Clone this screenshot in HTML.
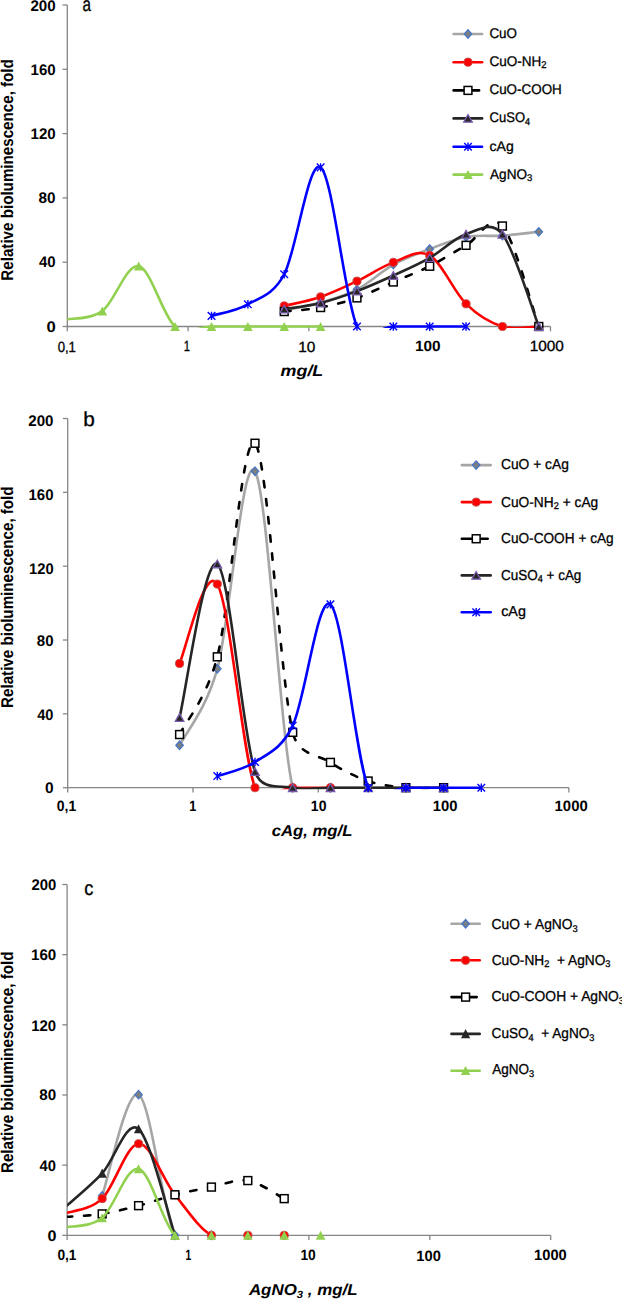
<!DOCTYPE html>
<html><head><meta charset="utf-8"><style>
html,body{margin:0;padding:0;background:#fff;width:622px;height:1300px;overflow:hidden}
svg{display:block}
text{font-family:"Liberation Sans",sans-serif;fill:#000;text-rendering:geometricPrecision}
</style></head><body>
<svg width="622" height="1300" viewBox="0 0 622 1300">
<defs><clipPath id="ca"><rect x="67.30" y="5.00" width="483.20" height="323.00"/></clipPath><clipPath id="cb"><rect x="67.70" y="418.50" width="501.20" height="370.70"/></clipPath><clipPath id="cc"><rect x="67.10" y="884.50" width="483.60" height="349.40"/></clipPath></defs>
<g stroke="#868686" stroke-width="1.3" fill="none"><path d="M67.30 5.00V326.50H550.40"/><path d="M62.50 326.50H67.30"/><path d="M62.50 262.20H67.30"/><path d="M62.50 197.90H67.30"/><path d="M62.50 133.60H67.30"/><path d="M62.50 69.30H67.30"/><path d="M62.50 5.00H67.30"/><path d="M67.30 326.50V331.30"/><path d="M188.10 326.50V331.30"/><path d="M308.90 326.50V331.30"/><path d="M429.70 326.50V331.30"/><path d="M550.50 326.50V331.30"/></g>
<path d="M284.24 310.43 C290.30 309.09 308.49 305.87 320.61 302.39 C332.73 298.90 344.85 295.82 356.97 289.53 C369.09 283.23 381.21 271.36 393.34 264.61 C405.46 257.86 417.58 253.63 429.70 249.02 C441.82 244.41 453.94 239.19 466.06 236.96 C478.19 234.74 490.31 236.53 502.43 235.68 C514.55 234.82 532.73 232.46 538.79 231.82" fill="none" stroke="#a6a6a6" stroke-width="2.6" stroke-linejoin="round" clip-path="url(#ca)"/><polygon points="284.24,306.23 287.94,310.43 284.24,314.62 280.54,310.43" fill="#7f7f7f" stroke="#4575c4" stroke-width="1.3"/><polygon points="320.61,298.19 324.31,302.39 320.61,306.59 316.91,302.39" fill="#7f7f7f" stroke="#4575c4" stroke-width="1.3"/><polygon points="356.97,285.33 360.67,289.53 356.97,293.73 353.27,289.53" fill="#7f7f7f" stroke="#4575c4" stroke-width="1.3"/><polygon points="393.34,260.41 397.04,264.61 393.34,268.81 389.64,264.61" fill="#7f7f7f" stroke="#4575c4" stroke-width="1.3"/><polygon points="429.70,244.82 433.40,249.02 429.70,253.22 426.00,249.02" fill="#7f7f7f" stroke="#4575c4" stroke-width="1.3"/><polygon points="466.06,232.76 469.76,236.96 466.06,241.16 462.36,236.96" fill="#7f7f7f" stroke="#4575c4" stroke-width="1.3"/><polygon points="502.43,231.48 506.13,235.68 502.43,239.88 498.73,235.68" fill="#7f7f7f" stroke="#4575c4" stroke-width="1.3"/><polygon points="538.79,227.62 542.49,231.82 538.79,236.02 535.09,231.82" fill="#7f7f7f" stroke="#4575c4" stroke-width="1.3"/>
<path d="M284.24 305.92 C290.30 304.42 308.49 301.05 320.61 296.92 C332.73 292.80 344.85 286.93 356.97 281.17 C369.09 275.41 381.21 266.65 393.34 262.36 C405.46 258.07 417.58 248.54 429.70 255.45 C441.82 262.36 453.94 291.99 466.06 303.83 C478.19 315.68 490.31 322.72 502.43 326.50 C514.55 330.28 532.73 326.50 538.79 326.50" fill="none" stroke="#ff0000" stroke-width="2.6" stroke-linejoin="round" clip-path="url(#ca)"/><circle cx="284.24" cy="305.92" r="4.1" fill="#ff0000" stroke="#c0504d" stroke-width="0.9"/><circle cx="320.61" cy="296.92" r="4.1" fill="#ff0000" stroke="#c0504d" stroke-width="0.9"/><circle cx="356.97" cy="281.17" r="4.1" fill="#ff0000" stroke="#c0504d" stroke-width="0.9"/><circle cx="393.34" cy="262.36" r="4.1" fill="#ff0000" stroke="#c0504d" stroke-width="0.9"/><circle cx="429.70" cy="255.45" r="4.1" fill="#ff0000" stroke="#c0504d" stroke-width="0.9"/><circle cx="466.06" cy="303.83" r="4.1" fill="#ff0000" stroke="#c0504d" stroke-width="0.9"/><circle cx="502.43" cy="326.50" r="4.1" fill="#ff0000" stroke="#c0504d" stroke-width="0.9"/><circle cx="538.79" cy="326.50" r="4.1" fill="#ff0000" stroke="#c0504d" stroke-width="0.9"/>
<path d="M284.24 311.55 C290.30 310.88 308.49 309.81 320.61 307.53 C332.73 305.25 344.85 302.15 356.97 297.89 C369.09 293.63 381.21 287.25 393.34 281.97 C405.46 276.69 417.58 272.33 429.70 266.22 C441.82 260.11 453.94 252.02 466.06 245.32 C478.19 238.62 490.31 212.50 502.43 226.03 C514.55 239.56 532.73 309.76 538.79 326.50" fill="none" stroke="#000000" stroke-width="2.6" stroke-linejoin="round" stroke-dasharray="6.4 11.8" stroke-linecap="round" clip-path="url(#ca)"/><rect x="280.34" y="307.60" width="7.8" height="7.9" fill="#fff" stroke="#000" stroke-width="1.5"/><rect x="316.71" y="303.58" width="7.8" height="7.9" fill="#fff" stroke="#000" stroke-width="1.5"/><rect x="353.07" y="293.94" width="7.8" height="7.9" fill="#fff" stroke="#000" stroke-width="1.5"/><rect x="389.44" y="278.02" width="7.8" height="7.9" fill="#fff" stroke="#000" stroke-width="1.5"/><rect x="425.80" y="262.27" width="7.8" height="7.9" fill="#fff" stroke="#000" stroke-width="1.5"/><rect x="462.16" y="241.37" width="7.8" height="7.9" fill="#fff" stroke="#000" stroke-width="1.5"/><rect x="498.53" y="222.08" width="7.8" height="7.9" fill="#fff" stroke="#000" stroke-width="1.5"/><rect x="534.89" y="322.55" width="7.8" height="7.9" fill="#fff" stroke="#000" stroke-width="1.5"/>
<path d="M284.24 309.14 C290.30 308.12 308.49 306.03 320.61 303.03 C332.73 300.03 344.85 295.72 356.97 291.13 C369.09 286.55 381.21 281.09 393.34 275.54 C405.46 270.00 417.58 264.75 429.70 257.86 C441.82 250.97 453.94 238.17 466.06 234.23 C478.19 230.29 491.17 219.95 502.43 234.23 C514.55 249.61 532.73 311.12 538.79 326.50" fill="none" stroke="#262626" stroke-width="2.6" stroke-linejoin="round" clip-path="url(#ca)"/><polygon points="284.24,305.24 288.54,312.94 279.94,312.94" fill="#262626" stroke="#7b5cae" stroke-width="1.3"/><polygon points="320.61,299.13 324.91,306.83 316.31,306.83" fill="#262626" stroke="#7b5cae" stroke-width="1.3"/><polygon points="356.97,287.24 361.27,294.94 352.67,294.94" fill="#262626" stroke="#7b5cae" stroke-width="1.3"/><polygon points="393.34,271.64 397.64,279.34 389.04,279.34" fill="#262626" stroke="#7b5cae" stroke-width="1.3"/><polygon points="429.70,253.96 434.00,261.66 425.40,261.66" fill="#262626" stroke="#7b5cae" stroke-width="1.3"/><polygon points="466.06,230.33 470.36,238.03 461.76,238.03" fill="#262626" stroke="#7b5cae" stroke-width="1.3"/><polygon points="502.43,230.33 506.73,238.03 498.13,238.03" fill="#262626" stroke="#7b5cae" stroke-width="1.3"/><polygon points="538.79,322.60 543.09,330.30 534.49,330.30" fill="#262626" stroke="#7b5cae" stroke-width="1.3"/>
<path d="M211.51 315.89 C217.57 313.96 235.76 311.26 247.88 304.32 C260.00 297.38 273.18 295.09 284.24 274.26 C296.36 251.43 308.49 158.65 320.61 167.36 C332.73 176.06 344.85 299.98 356.97 326.50 C364.53 343.04 381.21 326.50 393.34 326.50 C405.46 326.50 417.58 326.50 429.70 326.50 C441.82 326.50 460.00 326.50 466.06 326.50" fill="none" stroke="#0000ff" stroke-width="2.6" stroke-linejoin="round" clip-path="url(#ca)"/><path d="M207.71 312.09L215.31 319.69M215.31 312.09L207.71 319.69M211.51 311.69L211.51 320.09" stroke="#0000ff" stroke-width="1.4" fill="none"/><path d="M244.08 300.52L251.68 308.12M251.68 300.52L244.08 308.12M247.88 300.12L247.88 308.52" stroke="#0000ff" stroke-width="1.4" fill="none"/><path d="M280.44 270.46L288.04 278.06M288.04 270.46L280.44 278.06M284.24 270.06L284.24 278.46" stroke="#0000ff" stroke-width="1.4" fill="none"/><path d="M316.81 163.56L324.41 171.16M324.41 163.56L316.81 171.16M320.61 163.16L320.61 171.56" stroke="#0000ff" stroke-width="1.4" fill="none"/><path d="M353.17 322.70L360.77 330.30M360.77 322.70L353.17 330.30M356.97 322.30L356.97 330.70" stroke="#0000ff" stroke-width="1.4" fill="none"/><path d="M389.54 322.70L397.14 330.30M397.14 322.70L389.54 330.30M393.34 322.30L393.34 330.70" stroke="#0000ff" stroke-width="1.4" fill="none"/><path d="M425.90 322.70L433.50 330.30M433.50 322.70L425.90 330.30M429.70 322.30L429.70 330.70" stroke="#0000ff" stroke-width="1.4" fill="none"/><path d="M462.26 322.70L469.86 330.30M469.86 322.70L462.26 330.30M466.06 322.30L466.06 330.70" stroke="#0000ff" stroke-width="1.4" fill="none"/>
<path d="M66.08 319.43 C72.12 318.03 90.23 319.96 102.34 311.07 C114.44 302.17 126.58 263.49 138.70 266.06 C150.82 268.63 162.93 316.43 175.07 326.50 C187.20 336.57 199.38 326.50 211.51 326.50 C223.65 326.50 235.76 326.50 247.88 326.50 C260.00 326.50 272.12 326.50 284.24 326.50 C296.36 326.50 314.55 326.50 320.61 326.50" fill="none" stroke="#92d050" stroke-width="2.6" stroke-linejoin="round" clip-path="url(#ca)"/><polygon points="102.34,306.47 107.14,315.47 97.54,315.47" fill="#92d050"/><polygon points="138.70,261.46 143.50,270.46 133.90,270.46" fill="#92d050"/><polygon points="175.07,321.90 179.87,330.90 170.27,330.90" fill="#92d050"/><polygon points="211.51,321.90 216.31,330.90 206.71,330.90" fill="#92d050"/><polygon points="247.88,321.90 252.68,330.90 243.08,330.90" fill="#92d050"/><polygon points="284.24,321.90 289.04,330.90 279.44,330.90" fill="#92d050"/><polygon points="320.61,321.90 325.41,330.90 315.81,330.90" fill="#92d050"/>
<path d="M453.60 34.00H482.10" stroke="#a6a6a6" stroke-width="2.6" stroke-linecap="round"/><polygon points="468.00,29.80 471.70,34.00 468.00,38.20 464.30,34.00" fill="#7f7f7f" stroke="#4575c4" stroke-width="1.3"/>
<path d="M453.60 62.20H482.10" stroke="#ff0000" stroke-width="2.6" stroke-linecap="round"/><circle cx="468.00" cy="62.20" r="4.1" fill="#ff0000" stroke="#c0504d" stroke-width="0.9"/>
<path d="M453.60 90.40H464.00M472.00 90.40H479.10" stroke="#000" stroke-width="2.6" stroke-linecap="round"/><rect x="464.10" y="86.45" width="7.8" height="7.9" fill="#fff" stroke="#000" stroke-width="1.5"/>
<path d="M453.60 118.40H482.10" stroke="#262626" stroke-width="2.6" stroke-linecap="round"/><polygon points="468.00,114.50 472.30,122.20 463.70,122.20" fill="#262626" stroke="#7b5cae" stroke-width="1.3"/>
<path d="M453.60 146.70H482.10" stroke="#0000ff" stroke-width="2.6" stroke-linecap="round"/><path d="M464.20 142.90L471.80 150.50M471.80 142.90L464.20 150.50M468.00 142.50L468.00 150.90" stroke="#0000ff" stroke-width="1.4" fill="none"/>
<path d="M453.60 174.60H482.10" stroke="#92d050" stroke-width="2.6" stroke-linecap="round"/><polygon points="468.00,170.00 472.80,179.00 463.20,179.00" fill="#92d050"/>
<text transform="translate(12.90,169.90) rotate(-90)" font-size="17.00" font-weight="bold" text-anchor="middle" textLength="221.50" lengthAdjust="spacingAndGlyphs">Relative bioluminescence, fold</text>
<g stroke="#868686" stroke-width="1.3" fill="none"><path d="M67.70 418.50V787.70H569.00"/><path d="M62.90 787.70H67.70"/><path d="M62.90 713.86H67.70"/><path d="M62.90 640.02H67.70"/><path d="M62.90 566.18H67.70"/><path d="M62.90 492.34H67.70"/><path d="M62.90 418.50H67.70"/><path d="M67.70 787.70V792.50"/><path d="M193.00 787.70V792.50"/><path d="M318.30 787.70V792.50"/><path d="M443.60 787.70V792.50"/><path d="M568.90 787.70V792.50"/></g>
<path d="M179.57 745.24 C185.85 732.50 205.97 709.90 217.29 668.82 C229.86 623.16 242.43 451.48 255.00 471.30 C267.58 491.11 280.15 734.97 292.72 787.70 C297.10 806.05 317.87 787.70 330.44 787.70 C343.02 787.70 355.59 787.70 368.16 787.70 C380.73 787.70 393.31 787.70 405.88 787.70 C418.45 787.70 437.31 787.70 443.60 787.70" fill="none" stroke="#a6a6a6" stroke-width="2.6" stroke-linejoin="round" clip-path="url(#cb)"/><polygon points="179.57,741.04 183.27,745.24 179.57,749.44 175.87,745.24" fill="#7f7f7f" stroke="#4575c4" stroke-width="1.3"/><polygon points="217.29,664.62 220.99,668.82 217.29,673.02 213.59,668.82" fill="#7f7f7f" stroke="#4575c4" stroke-width="1.3"/><polygon points="255.00,467.10 258.70,471.30 255.00,475.50 251.30,471.30" fill="#7f7f7f" stroke="#4575c4" stroke-width="1.3"/><polygon points="292.72,783.50 296.42,787.70 292.72,791.90 289.02,787.70" fill="#7f7f7f" stroke="#4575c4" stroke-width="1.3"/><polygon points="330.44,783.50 334.14,787.70 330.44,791.90 326.74,787.70" fill="#7f7f7f" stroke="#4575c4" stroke-width="1.3"/><polygon points="368.16,783.50 371.86,787.70 368.16,791.90 364.46,787.70" fill="#7f7f7f" stroke="#4575c4" stroke-width="1.3"/><polygon points="405.88,783.50 409.58,787.70 405.88,791.90 402.18,787.70" fill="#7f7f7f" stroke="#4575c4" stroke-width="1.3"/><polygon points="443.60,783.50 447.30,787.70 443.60,791.90 439.90,787.70" fill="#7f7f7f" stroke="#4575c4" stroke-width="1.3"/>
<path d="M179.57 734.54 C185.85 721.58 206.46 698.63 217.29 656.82 C229.86 608.27 242.43 430.65 255.00 443.24 C267.58 455.82 280.15 679.12 292.72 732.32 C298.27 755.80 317.87 754.29 330.44 762.41 C343.02 770.53 355.59 776.84 368.16 781.05 C380.73 785.27 393.31 786.59 405.88 787.70 C418.45 788.81 437.31 787.70 443.60 787.70" fill="none" stroke="#000000" stroke-width="2.6" stroke-linejoin="round" stroke-dasharray="6.4 11.8" stroke-linecap="round" clip-path="url(#cb)"/><rect x="175.67" y="730.59" width="7.8" height="7.9" fill="#fff" stroke="#000" stroke-width="1.5"/><rect x="213.39" y="652.87" width="7.8" height="7.9" fill="#fff" stroke="#000" stroke-width="1.5"/><rect x="251.10" y="439.29" width="7.8" height="7.9" fill="#fff" stroke="#000" stroke-width="1.5"/><rect x="288.82" y="728.37" width="7.8" height="7.9" fill="#fff" stroke="#000" stroke-width="1.5"/><rect x="326.54" y="758.46" width="7.8" height="7.9" fill="#fff" stroke="#000" stroke-width="1.5"/><rect x="364.26" y="777.10" width="7.8" height="7.9" fill="#fff" stroke="#000" stroke-width="1.5"/><rect x="401.98" y="783.75" width="7.8" height="7.9" fill="#fff" stroke="#000" stroke-width="1.5"/><rect x="439.70" y="783.75" width="7.8" height="7.9" fill="#fff" stroke="#000" stroke-width="1.5"/>
<path d="M179.57 663.46 C185.85 650.23 204.71 563.38 217.29 584.09 C229.86 604.79 242.43 753.76 255.00 787.70 C261.56 805.38 280.15 787.70 292.72 787.70 C305.30 787.70 324.16 787.70 330.44 787.70" fill="none" stroke="#ff0000" stroke-width="2.6" stroke-linejoin="round" clip-path="url(#cb)"/><circle cx="179.57" cy="663.46" r="4.1" fill="#ff0000" stroke="#c0504d" stroke-width="0.9"/><circle cx="217.29" cy="584.09" r="4.1" fill="#ff0000" stroke="#c0504d" stroke-width="0.9"/><circle cx="255.00" cy="787.70" r="4.1" fill="#ff0000" stroke="#c0504d" stroke-width="0.9"/><circle cx="292.72" cy="787.70" r="4.1" fill="#ff0000" stroke="#c0504d" stroke-width="0.9"/><circle cx="330.44" cy="787.70" r="4.1" fill="#ff0000" stroke="#c0504d" stroke-width="0.9"/>
<path d="M179.57 717.55 C185.85 691.95 204.71 554.95 217.29 563.96 C229.86 572.98 242.43 734.35 255.00 771.64 C261.55 791.06 280.15 785.02 292.72 787.70 C305.30 790.38 317.87 787.70 330.44 787.70 C343.02 787.70 355.59 787.70 368.16 787.70 C380.73 787.70 393.31 787.70 405.88 787.70 C418.45 787.70 437.31 787.70 443.60 787.70" fill="none" stroke="#262626" stroke-width="2.6" stroke-linejoin="round" clip-path="url(#cb)"/><polygon points="179.57,713.65 183.87,721.35 175.27,721.35" fill="#262626" stroke="#7b5cae" stroke-width="1.3"/><polygon points="217.29,560.06 221.59,567.76 212.99,567.76" fill="#262626" stroke="#7b5cae" stroke-width="1.3"/><polygon points="255.00,767.74 259.30,775.44 250.70,775.44" fill="#262626" stroke="#7b5cae" stroke-width="1.3"/><polygon points="292.72,783.80 297.02,791.50 288.42,791.50" fill="#262626" stroke="#7b5cae" stroke-width="1.3"/><polygon points="330.44,783.80 334.74,791.50 326.14,791.50" fill="#262626" stroke="#7b5cae" stroke-width="1.3"/><polygon points="368.16,783.80 372.46,791.50 363.86,791.50" fill="#262626" stroke="#7b5cae" stroke-width="1.3"/><polygon points="405.88,783.80 410.18,791.50 401.58,791.50" fill="#262626" stroke="#7b5cae" stroke-width="1.3"/><polygon points="443.60,783.80 447.90,791.50 439.30,791.50" fill="#262626" stroke="#7b5cae" stroke-width="1.3"/>
<path d="M217.29 776.07 C223.57 773.73 242.43 770.44 255.00 762.04 C267.58 753.64 281.42 749.31 292.72 725.67 C305.30 699.40 317.87 594.05 330.44 604.39 C343.02 614.73 355.59 757.15 368.16 787.70 C375.34 805.14 393.31 787.70 405.88 787.70 C418.45 787.70 431.03 787.70 443.60 787.70 C456.17 787.70 475.03 787.70 481.32 787.70" fill="none" stroke="#0000ff" stroke-width="2.6" stroke-linejoin="round" clip-path="url(#cb)"/><path d="M213.49 772.27L221.09 779.87M221.09 772.27L213.49 779.87M217.29 771.87L217.29 780.27" stroke="#0000ff" stroke-width="1.4" fill="none"/><path d="M251.20 758.24L258.80 765.84M258.80 758.24L251.20 765.84M255.00 757.84L255.00 766.24" stroke="#0000ff" stroke-width="1.4" fill="none"/><path d="M288.92 721.87L296.52 729.47M296.52 721.87L288.92 729.47M292.72 721.47L292.72 729.87" stroke="#0000ff" stroke-width="1.4" fill="none"/><path d="M326.64 600.59L334.24 608.19M334.24 600.59L326.64 608.19M330.44 600.19L330.44 608.59" stroke="#0000ff" stroke-width="1.4" fill="none"/><path d="M364.36 783.90L371.96 791.50M371.96 783.90L364.36 791.50M368.16 783.50L368.16 791.90" stroke="#0000ff" stroke-width="1.4" fill="none"/><path d="M402.08 783.90L409.68 791.50M409.68 783.90L402.08 791.50M405.88 783.50L405.88 791.90" stroke="#0000ff" stroke-width="1.4" fill="none"/><path d="M439.80 783.90L447.40 791.50M447.40 783.90L439.80 791.50M443.60 783.50L443.60 791.90" stroke="#0000ff" stroke-width="1.4" fill="none"/><path d="M477.52 783.90L485.12 791.50M485.12 783.90L477.52 791.50M481.32 783.50L481.32 791.90" stroke="#0000ff" stroke-width="1.4" fill="none"/>
<path d="M461.80 465.10H490.70" stroke="#a6a6a6" stroke-width="2.6" stroke-linecap="round"/><polygon points="476.20,460.90 479.90,465.10 476.20,469.30 472.50,465.10" fill="#7f7f7f" stroke="#4575c4" stroke-width="1.3"/>
<path d="M461.80 502.10H490.70" stroke="#ff0000" stroke-width="2.6" stroke-linecap="round"/><circle cx="476.20" cy="502.10" r="4.1" fill="#ff0000" stroke="#c0504d" stroke-width="0.9"/>
<path d="M461.80 538.75H472.20M480.20 538.75H487.70" stroke="#000" stroke-width="2.6" stroke-linecap="round"/><rect x="472.30" y="534.80" width="7.8" height="7.9" fill="#fff" stroke="#000" stroke-width="1.5"/>
<path d="M461.80 575.40H490.70" stroke="#262626" stroke-width="2.6" stroke-linecap="round"/><polygon points="476.20,571.50 480.50,579.20 471.90,579.20" fill="#262626" stroke="#7b5cae" stroke-width="1.3"/>
<path d="M461.80 612.30H490.70" stroke="#0000ff" stroke-width="2.6" stroke-linecap="round"/><path d="M472.40 608.50L480.00 616.10M480.00 608.50L472.40 616.10M476.20 608.10L476.20 616.50" stroke="#0000ff" stroke-width="1.4" fill="none"/>
<text transform="translate(12.90,597.15) rotate(-90)" font-size="17.00" font-weight="bold" text-anchor="middle" textLength="221.50" lengthAdjust="spacingAndGlyphs">Relative bioluminescence, fold</text>
<g stroke="#868686" stroke-width="1.3" fill="none"><path d="M67.10 884.50V1235.30H550.70"/><path d="M62.30 1235.30H67.10"/><path d="M62.30 1165.14H67.10"/><path d="M62.30 1094.98H67.10"/><path d="M62.30 1024.82H67.10"/><path d="M62.30 954.66H67.10"/><path d="M62.30 884.50H67.10"/><path d="M67.10 1235.30V1240.10"/><path d="M188.00 1235.30V1240.10"/><path d="M308.90 1235.30V1240.10"/><path d="M429.80 1235.30V1240.10"/><path d="M550.70 1235.30V1240.10"/></g>
<path d="M102.17 1195.84 C108.23 1178.97 126.43 1088.05 138.56 1094.63 C150.69 1101.21 162.81 1211.85 174.95 1235.30 C183.34 1251.50 205.35 1235.30 211.43 1235.30" fill="none" stroke="#a6a6a6" stroke-width="2.6" stroke-linejoin="round" clip-path="url(#cc)"/><polygon points="102.17,1191.63 105.87,1195.84 102.17,1200.04 98.47,1195.84" fill="#7f7f7f" stroke="#4575c4" stroke-width="1.3"/><polygon points="138.56,1090.43 142.26,1094.63 138.56,1098.83 134.86,1094.63" fill="#7f7f7f" stroke="#4575c4" stroke-width="1.3"/><polygon points="174.95,1231.10 178.65,1235.30 174.95,1239.50 171.25,1235.30" fill="#7f7f7f" stroke="#4575c4" stroke-width="1.3"/><polygon points="211.43,1231.10 215.13,1235.30 211.43,1239.50 207.73,1235.30" fill="#7f7f7f" stroke="#4575c4" stroke-width="1.3"/>
<path d="M65.88 1213.20 C71.93 1210.77 90.05 1210.22 102.17 1198.64 C114.28 1187.07 126.43 1144.38 138.56 1143.74 C150.69 1143.10 162.81 1179.52 174.95 1194.78 C187.10 1210.04 199.29 1228.55 211.43 1235.30 C223.58 1242.05 235.70 1235.30 247.83 1235.30 C259.96 1235.30 278.16 1235.30 284.22 1235.30" fill="none" stroke="#ff0000" stroke-width="2.6" stroke-linejoin="round" clip-path="url(#cc)"/><circle cx="102.17" cy="1198.64" r="4.1" fill="#ff0000" stroke="#c0504d" stroke-width="0.9"/><circle cx="138.56" cy="1143.74" r="4.1" fill="#ff0000" stroke="#c0504d" stroke-width="0.9"/><circle cx="174.95" cy="1194.78" r="4.1" fill="#ff0000" stroke="#c0504d" stroke-width="0.9"/><circle cx="211.43" cy="1235.30" r="4.1" fill="#ff0000" stroke="#c0504d" stroke-width="0.9"/><circle cx="247.83" cy="1235.30" r="4.1" fill="#ff0000" stroke="#c0504d" stroke-width="0.9"/><circle cx="284.22" cy="1235.30" r="4.1" fill="#ff0000" stroke="#c0504d" stroke-width="0.9"/>
<path d="M65.88 1216.88 C71.93 1216.39 90.05 1215.77 102.17 1213.90 C114.28 1212.03 126.43 1208.84 138.56 1205.66 C150.69 1202.47 162.81 1197.88 174.95 1194.78 C187.10 1191.68 199.29 1189.43 211.43 1187.07 C223.58 1184.70 235.70 1178.65 247.83 1180.58 C259.96 1182.50 278.16 1195.63 284.22 1198.64" fill="none" stroke="#000000" stroke-width="2.6" stroke-linejoin="round" stroke-dasharray="6.4 11.8" stroke-linecap="round" clip-path="url(#cc)"/><rect x="98.27" y="1209.95" width="7.8" height="7.9" fill="#fff" stroke="#000" stroke-width="1.5"/><rect x="134.66" y="1201.71" width="7.8" height="7.9" fill="#fff" stroke="#000" stroke-width="1.5"/><rect x="171.05" y="1190.83" width="7.8" height="7.9" fill="#fff" stroke="#000" stroke-width="1.5"/><rect x="207.53" y="1183.12" width="7.8" height="7.9" fill="#fff" stroke="#000" stroke-width="1.5"/><rect x="243.93" y="1176.63" width="7.8" height="7.9" fill="#fff" stroke="#000" stroke-width="1.5"/><rect x="280.32" y="1194.69" width="7.8" height="7.9" fill="#fff" stroke="#000" stroke-width="1.5"/>
<path d="M65.88 1206.53 C71.93 1201.01 90.05 1186.30 102.17 1173.38 C114.28 1160.46 126.43 1118.69 138.56 1129.01 C150.69 1139.33 168.89 1217.58 174.95 1235.30" fill="none" stroke="#262626" stroke-width="2.6" stroke-linejoin="round" clip-path="url(#cc)"/><polygon points="102.17,1168.58 106.77,1177.68 97.57,1177.68" fill="#262626"/><polygon points="138.56,1124.21 143.16,1133.31 133.96,1133.31" fill="#262626"/><polygon points="174.95,1230.50 179.55,1239.60 170.35,1239.60" fill="#262626"/>
<path d="M65.88 1227.41 C71.93 1225.80 90.05 1227.52 102.17 1217.76 C114.28 1208.00 126.43 1165.90 138.56 1168.82 C150.69 1171.75 162.81 1224.22 174.95 1235.30 C187.10 1246.38 199.29 1235.30 211.43 1235.30 C223.58 1235.30 235.70 1235.30 247.83 1235.30 C259.96 1235.30 272.09 1235.30 284.22 1235.30 C296.35 1235.30 314.55 1235.30 320.62 1235.30" fill="none" stroke="#92d050" stroke-width="2.6" stroke-linejoin="round" clip-path="url(#cc)"/><polygon points="102.17,1213.16 106.97,1222.16 97.37,1222.16" fill="#92d050"/><polygon points="138.56,1164.22 143.36,1173.22 133.76,1173.22" fill="#92d050"/><polygon points="174.95,1230.70 179.75,1239.70 170.15,1239.70" fill="#92d050"/><polygon points="211.43,1230.70 216.23,1239.70 206.63,1239.70" fill="#92d050"/><polygon points="247.83,1230.70 252.63,1239.70 243.03,1239.70" fill="#92d050"/><polygon points="284.22,1230.70 289.02,1239.70 279.42,1239.70" fill="#92d050"/><polygon points="320.62,1230.70 325.42,1239.70 315.82,1239.70" fill="#92d050"/>
<path d="M451.50 923.70H479.70" stroke="#a6a6a6" stroke-width="2.6" stroke-linecap="round"/><polygon points="465.60,919.50 469.30,923.70 465.60,927.90 461.90,923.70" fill="#7f7f7f" stroke="#4575c4" stroke-width="1.3"/>
<path d="M451.50 960.30H479.70" stroke="#ff0000" stroke-width="2.6" stroke-linecap="round"/><circle cx="465.60" cy="960.30" r="4.1" fill="#ff0000" stroke="#c0504d" stroke-width="0.9"/>
<path d="M451.50 997.10H461.60M469.60 997.10H476.70" stroke="#000" stroke-width="2.6" stroke-linecap="round"/><rect x="461.70" y="993.15" width="7.8" height="7.9" fill="#fff" stroke="#000" stroke-width="1.5"/>
<path d="M451.50 1033.90H479.70" stroke="#262626" stroke-width="2.6" stroke-linecap="round"/><polygon points="465.60,1029.10 470.20,1038.20 461.00,1038.20" fill="#262626"/>
<path d="M451.50 1070.70H479.70" stroke="#92d050" stroke-width="2.6" stroke-linecap="round"/><polygon points="465.60,1066.10 470.40,1075.10 460.80,1075.10" fill="#92d050"/>
<text transform="translate(12.90,1062.25) rotate(-90)" font-size="17.00" font-weight="bold" text-anchor="middle" textLength="221.50" lengthAdjust="spacingAndGlyphs">Relative bioluminescence, fold</text>
<text id="ay0" x="46.48" y="332.20" font-size="15.30" font-weight="bold" font-style="normal" textLength="9.27" lengthAdjust="spacingAndGlyphs">0</text>
<text id="ay1" x="38.96" y="267.49" font-size="15.30" font-weight="bold" font-style="normal" textLength="16.65" lengthAdjust="spacingAndGlyphs">40</text>
<text id="ay2" x="38.62" y="202.94" font-size="15.30" font-weight="bold" font-style="normal" textLength="17.03" lengthAdjust="spacingAndGlyphs">80</text>
<text id="ay3" x="30.60" y="139.31" font-size="15.30" font-weight="bold" font-style="normal" textLength="25.15" lengthAdjust="spacingAndGlyphs">120</text>
<text id="ay4" x="30.52" y="74.85" font-size="15.30" font-weight="bold" font-style="normal" textLength="25.19" lengthAdjust="spacingAndGlyphs">160</text>
<text id="ay5" x="30.45" y="10.55" font-size="15.30" font-weight="bold" font-style="normal" textLength="25.27" lengthAdjust="spacingAndGlyphs">200</text>
<text id="ax0" x="57.64" y="351.50" font-size="14.80" font-weight="normal" font-style="normal" textLength="18.33" lengthAdjust="spacingAndGlyphs" stroke="#000" stroke-width="0.30">0,1</text>
<text id="ax1" x="183.65" y="350.94" font-size="14.80" font-weight="normal" font-style="normal" textLength="6.29" lengthAdjust="spacingAndGlyphs" stroke="#000" stroke-width="0.30">1</text>
<text id="ax2" x="298.24" y="351.65" font-size="14.80" font-weight="normal" font-style="normal" textLength="17.18" lengthAdjust="spacingAndGlyphs" stroke="#000" stroke-width="0.30">10</text>
<text id="ax3" x="414.99" y="350.71" font-size="14.80" font-weight="bold" font-style="normal" textLength="25.70" lengthAdjust="spacingAndGlyphs">100</text>
<text id="ax4" x="529.67" y="351.30" font-size="14.80" font-weight="normal" font-style="normal" textLength="34.24" lengthAdjust="spacingAndGlyphs" stroke="#000" stroke-width="0.30">1000</text>
<text id="axt" x="280.57" y="376.41" font-size="15.80" font-weight="bold" font-style="italic" textLength="42.73" lengthAdjust="spacingAndGlyphs">mg/L</text>
<text id="alet" x="82.56" y="11.09" font-size="20.00" font-weight="normal" font-style="normal" textLength="8.46" lengthAdjust="spacingAndGlyphs" stroke="#000" stroke-width="0.30">a</text>
<text id="al0" x="489.42" y="37.59" font-size="14.00" font-weight="normal" font-style="normal" textLength="27.61" lengthAdjust="spacingAndGlyphs" stroke="#000" stroke-width="0.30">CuO</text>
<text id="al1" x="489.50" y="65.86" font-size="14.00" font-weight="normal" font-style="normal" textLength="57.14" lengthAdjust="spacingAndGlyphs" stroke="#000" stroke-width="0.30">CuO-NH<tspan font-size="9.8" dy="2.6">2</tspan></text>
<text id="al2" x="489.45" y="94.01" font-size="14.00" font-weight="normal" font-style="normal" textLength="72.33" lengthAdjust="spacingAndGlyphs" stroke="#000" stroke-width="0.30">CuO-COOH</text>
<text id="al3" x="489.50" y="122.01" font-size="14.00" font-weight="normal" font-style="normal" textLength="40.62" lengthAdjust="spacingAndGlyphs" stroke="#000" stroke-width="0.30">CuSO<tspan font-size="9.8" dy="2.6">4</tspan></text>
<text id="al4" x="489.55" y="150.78" font-size="14.00" font-weight="normal" font-style="normal" textLength="24.19" lengthAdjust="spacingAndGlyphs" stroke="#000" stroke-width="0.30">cAg</text>
<text id="al5" x="490.04" y="178.87" font-size="14.00" font-weight="normal" font-style="normal" textLength="42.31" lengthAdjust="spacingAndGlyphs" stroke="#000" stroke-width="0.30">AgNO<tspan font-size="9.8" dy="2.6">3</tspan></text>
<text id="by0" x="44.98" y="793.04" font-size="15.30" font-weight="bold" font-style="normal" textLength="8.64" lengthAdjust="spacingAndGlyphs">0</text>
<text id="by1" x="37.27" y="719.98" font-size="15.30" font-weight="bold" font-style="normal" textLength="16.21" lengthAdjust="spacingAndGlyphs">40</text>
<text id="by2" x="36.82" y="646.43" font-size="15.30" font-weight="bold" font-style="normal" textLength="16.72" lengthAdjust="spacingAndGlyphs">80</text>
<text id="by3" x="29.05" y="573.63" font-size="15.30" font-weight="bold" font-style="normal" textLength="24.56" lengthAdjust="spacingAndGlyphs">120</text>
<text id="by4" x="28.49" y="499.99" font-size="15.30" font-weight="bold" font-style="normal" textLength="25.04" lengthAdjust="spacingAndGlyphs">160</text>
<text id="by5" x="28.25" y="426.32" font-size="15.30" font-weight="bold" font-style="normal" textLength="25.23" lengthAdjust="spacingAndGlyphs">200</text>
<text id="bx0" x="56.75" y="811.21" font-size="15.00" font-weight="bold" font-style="normal" textLength="19.43" lengthAdjust="spacingAndGlyphs">0,1</text>
<text id="bx1" x="189.13" y="811.45" font-size="15.00" font-weight="bold" font-style="normal" textLength="7.07" lengthAdjust="spacingAndGlyphs">1</text>
<text id="bx2" x="310.85" y="811.24" font-size="15.00" font-weight="bold" font-style="normal" textLength="15.60" lengthAdjust="spacingAndGlyphs">10</text>
<text id="bx3" x="432.73" y="811.03" font-size="15.00" font-weight="bold" font-style="normal" textLength="24.66" lengthAdjust="spacingAndGlyphs">100</text>
<text id="bx4" x="554.58" y="811.15" font-size="15.00" font-weight="bold" font-style="normal" textLength="33.13" lengthAdjust="spacingAndGlyphs">1000</text>
<text id="bxt" x="271.65" y="836.25" font-size="15.80" font-weight="bold" font-style="italic" textLength="80.78" lengthAdjust="spacingAndGlyphs">cAg, mg/L</text>
<text id="blet" x="83.27" y="425.57" font-size="20.00" font-weight="normal" font-style="normal" textLength="11.56" lengthAdjust="spacingAndGlyphs" stroke="#000" stroke-width="0.30">b</text>
<text id="bl0" x="501.01" y="469.27" font-size="14.50" font-weight="normal" font-style="normal" textLength="67.82" lengthAdjust="spacingAndGlyphs" stroke="#000" stroke-width="0.30">CuO + cAg</text>
<text id="bl1" x="501.01" y="506.54" font-size="14.50" font-weight="normal" font-style="normal" textLength="97.20" lengthAdjust="spacingAndGlyphs" stroke="#000" stroke-width="0.30">CuO-NH<tspan font-size="9.8" dy="2.6">2</tspan><tspan dy="-2.6"> + cAg</tspan></text>
<text id="bl2" x="501.04" y="543.02" font-size="14.50" font-weight="normal" font-style="normal" textLength="112.65" lengthAdjust="spacingAndGlyphs" stroke="#000" stroke-width="0.30">CuO-COOH + cAg</text>
<text id="bl3" x="501.04" y="579.55" font-size="14.50" font-weight="normal" font-style="normal" textLength="80.33" lengthAdjust="spacingAndGlyphs" stroke="#000" stroke-width="0.30">CuSO<tspan font-size="9.8" dy="2.6">4</tspan><tspan dy="-2.6"> + cAg</tspan></text>
<text id="bl4" x="501.21" y="615.51" font-size="14.50" font-weight="normal" font-style="normal" textLength="24.69" lengthAdjust="spacingAndGlyphs" stroke="#000" stroke-width="0.30">cAg</text>
<text id="cy0" x="47.52" y="1241.21" font-size="15.30" font-weight="bold" font-style="normal" textLength="8.98" lengthAdjust="spacingAndGlyphs">0</text>
<text id="cy1" x="39.62" y="1170.79" font-size="15.30" font-weight="bold" font-style="normal" textLength="16.43" lengthAdjust="spacingAndGlyphs">40</text>
<text id="cy2" x="39.31" y="1100.30" font-size="15.30" font-weight="bold" font-style="normal" textLength="16.90" lengthAdjust="spacingAndGlyphs">80</text>
<text id="cy3" x="31.22" y="1030.73" font-size="15.30" font-weight="bold" font-style="normal" textLength="24.90" lengthAdjust="spacingAndGlyphs">120</text>
<text id="cy4" x="30.95" y="960.21" font-size="15.30" font-weight="bold" font-style="normal" textLength="25.34" lengthAdjust="spacingAndGlyphs">160</text>
<text id="cy5" x="31.41" y="890.43" font-size="15.30" font-weight="bold" font-style="normal" textLength="24.86" lengthAdjust="spacingAndGlyphs">200</text>
<text id="cx0" x="57.40" y="1259.88" font-size="15.00" font-weight="bold" font-style="normal" textLength="19.13" lengthAdjust="spacingAndGlyphs">0,1</text>
<text id="cx1" x="185.44" y="1259.93" font-size="15.00" font-weight="bold" font-style="normal" textLength="5.71" lengthAdjust="spacingAndGlyphs">1</text>
<text id="cx2" x="300.44" y="1260.33" font-size="15.00" font-weight="bold" font-style="normal" textLength="15.35" lengthAdjust="spacingAndGlyphs">10</text>
<text id="cx3" x="416.34" y="1260.59" font-size="15.00" font-weight="bold" font-style="normal" textLength="24.50" lengthAdjust="spacingAndGlyphs">100</text>
<text id="cx4" x="534.12" y="1260.17" font-size="15.00" font-weight="bold" font-style="normal" textLength="32.58" lengthAdjust="spacingAndGlyphs">1000</text>
<text id="cxt" x="248.90" y="1294.82" font-size="15.80" font-weight="bold" font-style="italic" textLength="108.67" lengthAdjust="spacingAndGlyphs">AgNO<tspan font-size="10.5" dy="2.8">3</tspan><tspan dy="-2.8"> , mg/L</tspan></text>
<text id="clet" x="84.13" y="894.60" font-size="20.00" font-weight="normal" font-style="normal" textLength="9.14" lengthAdjust="spacingAndGlyphs" stroke="#000" stroke-width="0.30">c</text>
<text id="cl0" x="491.61" y="928.90" font-size="14.50" font-weight="normal" font-style="normal" textLength="86.10" lengthAdjust="spacingAndGlyphs" stroke="#000" stroke-width="0.30">CuO + AgNO<tspan font-size="9.8" dy="2.6">3</tspan></text>
<text id="cl1" x="491.67" y="964.51" font-size="14.50" font-weight="normal" font-style="normal" textLength="118.80" lengthAdjust="spacingAndGlyphs" stroke="#000" stroke-width="0.30">CuO-NH<tspan font-size="9.8" dy="2.6">2</tspan><tspan dy="-2.6">&#160; + AgNO</tspan><tspan font-size="9.8" dy="2.6">3</tspan></text>
<text id="cl2" x="491.54" y="1001.40" font-size="14.50" font-weight="normal" font-style="normal" textLength="132.50" lengthAdjust="spacingAndGlyphs" stroke="#000" stroke-width="0.30">CuO-COOH + AgNO<tspan font-size="9.8" dy="2.6">3</tspan></text>
<text id="cl3" x="491.57" y="1038.03" font-size="14.50" font-weight="normal" font-style="normal" textLength="102.85" lengthAdjust="spacingAndGlyphs" stroke="#000" stroke-width="0.30">CuSO<tspan font-size="9.8" dy="2.6">4</tspan><tspan dy="-2.6">&#160; + AgNO</tspan><tspan font-size="9.8" dy="2.6">3</tspan></text>
<text id="cl4" x="492.21" y="1074.06" font-size="14.50" font-weight="normal" font-style="normal" textLength="41.95" lengthAdjust="spacingAndGlyphs" stroke="#000" stroke-width="0.30">AgNO<tspan font-size="9.8" dy="2.6">3</tspan></text>
</svg>
</body></html>
